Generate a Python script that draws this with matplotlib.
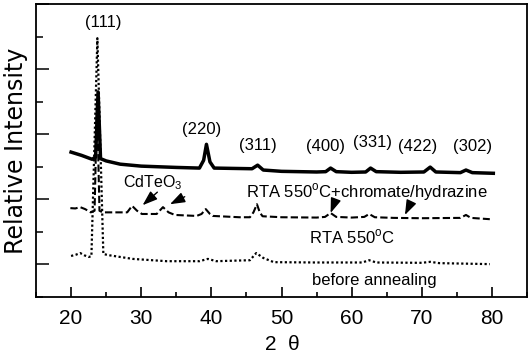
import matplotlib
matplotlib.use("Agg")
import matplotlib.pyplot as plt
from matplotlib.ticker import MultipleLocator

# ---- data ----
top_x = [20.0, 21.5, 23.0, 23.5, 23.85, 24.2, 25.0, 27.0, 30.0, 35.0, 38.3, 38.9, 39.3,
         39.8, 40.4, 43.0, 45.8, 46.6, 47.4, 50.0, 55.0, 56.3, 57.0, 57.8, 60.0, 62.0,
         62.7, 63.5, 67.0, 70.3, 71.2, 72.0, 75.5, 76.3, 77.2, 80.2]
top_y = [4.45, 4.35, 4.23, 4.3, 6.3, 4.25, 4.18, 4.08, 4.02, 3.98, 3.96, 4.2, 4.69,
         4.15, 3.96, 3.95, 3.94, 4.05, 3.9, 3.86, 3.84, 3.85, 3.96, 3.85, 3.83, 3.84,
         3.96, 3.85, 3.83, 3.84, 3.99, 3.84, 3.82, 3.9, 3.82, 3.8]

mid_x = [19.9, 20.6, 21.3, 22.0, 22.8, 23.35, 23.7, 24.05, 24.5, 26.0, 28.0, 28.7, 29.4,
         30.1, 32.2, 33.1, 33.9, 34.8, 37.9, 38.6, 39.2, 39.8, 40.2, 44.0, 45.5, 46.0,
         46.5, 46.9, 47.3, 50.0, 55.0, 56.2, 57.0, 57.8, 60.0, 61.8, 62.5, 63.3, 66.0,
         70.0, 75.5, 76.3, 77.0, 79.7]
mid_y = [2.73, 2.72, 2.76, 2.7, 2.6, 2.65, 6.0, 2.65, 2.6, 2.6, 2.6, 2.8, 2.65,
         2.55, 2.55, 2.76, 2.6, 2.52, 2.49, 2.55, 2.7, 2.55, 2.49, 2.45, 2.45, 2.6,
         2.85, 2.6, 2.48, 2.45, 2.44, 2.46, 2.58, 2.46, 2.44, 2.46, 2.55, 2.45, 2.43,
         2.42, 2.43, 2.52, 2.43, 2.39]

bot_x = [20.0, 20.7, 21.3, 21.9, 22.5, 22.9, 23.75, 24.6, 25.5, 28.8, 33.6, 38.3, 39.5,
         40.7, 45.5, 46.4, 47.4, 48.9, 55.0, 61.5, 62.5, 63.5, 70.0, 71.2, 72.5, 79.7]
bot_y = [1.26, 1.3, 1.35, 1.28, 1.23, 1.25, 7.95, 1.32, 1.28, 1.17, 1.1, 1.1, 1.17,
         1.1, 1.13, 1.35, 1.2, 1.07, 1.06, 1.06, 1.13, 1.06, 1.05, 1.08, 1.04, 1.01]

peak_labels = ["(111)", "(220)", "(311)", "(400)", "(331)", "(422)", "(302)"]
peak_label_x = [24.55, 38.6, 46.6, 56.3, 63.0, 69.4, 77.2]
peak_label_y = [8.42, 5.15, 4.66, 4.63, 4.74, 4.63, 4.63]

curve_labels = ["RTA 550$^\\mathregular{o}$C+chromate/hydrazine", "RTA 550$^\\mathregular{o}$C", "before annealing"]
curve_label_x = [62.2, 60.1, 63.2]
curve_label_y = [3.22, 1.84, 0.52]

arrow_head_x = [30.2, 34.1, 57.0, 67.6]
arrow_head_y = [2.82, 2.85, 2.58, 2.52]
arrow_tail_x = [32.3, 36.2, 57.7, 68.4]
arrow_tail_y = [3.22, 3.08, 2.98, 2.88]

xticks = [20, 30, 40, 50, 60, 70, 80]

# ---- figure ----
plt.rcParams['font.family'] = ['Liberation Sans', 'DejaVu Sans']
plt.rcParams['mathtext.fontset'] = 'custom'
plt.rcParams['mathtext.rm'] = 'Liberation Sans'

fig = plt.figure(figsize=(5.28, 3.59), dpi=100)
ax = fig.add_axes([36 / 528, 1 - 297 / 359, 491 / 528, 293 / 359])

ax.plot(top_x, top_y, color='black', lw=2.5, solid_joinstyle='round')
ax.plot(mid_x, mid_y, color='black', lw=1.5, linestyle=(0, (3.5, 1.5)))
ax.plot(bot_x, bot_y, color='black', lw=1.6, linestyle=(0, (1.0, 1.1)))

ax.set_xlim(15, 85)
ax.set_ylim(0, 9)

ax.set_xticks(xticks)
ax.xaxis.set_minor_locator(MultipleLocator(5))
ax.yaxis.set_major_locator(MultipleLocator(2, offset=1))
ax.yaxis.set_minor_locator(MultipleLocator(1))
ax.set_yticklabels([])
ax.tick_params(axis='x', which='major', direction='in', length=7.5, width=1.2,
               labelsize=15, pad=9)
ax.tick_params(axis='x', which='minor', direction='in', length=3.8, width=1.2)
ax.tick_params(axis='y', which='major', direction='in', length=9.5, width=1.1,
               labelleft=False)
ax.tick_params(axis='y', which='minor', direction='in', length=5, width=1.1)
for s in ax.spines.values():
    s.set_linewidth(1.3)

for t, x, y in zip(peak_labels, peak_label_x, peak_label_y):
    ax.text(x, y, t, ha='center', va='center', fontsize=12)

for t, x, y in zip(curve_labels, curve_label_x, curve_label_y):
    ax.text(x, y, t, ha='center', va='center', fontsize=12)

ax.text(31.7, 3.5, "CdTeO$_\\mathregular{3}$", ha='center', va='center', fontsize=11.5)

for hx, hy, tx, ty in zip(arrow_head_x, arrow_head_y, arrow_tail_x, arrow_tail_y):
    ax.annotate("", xy=(hx, hy), xytext=(tx, ty),
                arrowprops=dict(arrowstyle='-|>,head_length=0.9,head_width=0.32',
                                mutation_scale=10, color='black', lw=1.0,
                                shrinkA=0, shrinkB=0))

fig.text(16.5 / 528, 1 - 151 / 359, "Relative Intensity", rotation=90,
         ha='center', va='center', fontsize=17, family='DejaVu Sans')
fig.text(282 / 528, 1 - 345 / 359, "2  θ", ha='center', va='center', fontsize=15)

fig.savefig("out.png", dpi=100)
